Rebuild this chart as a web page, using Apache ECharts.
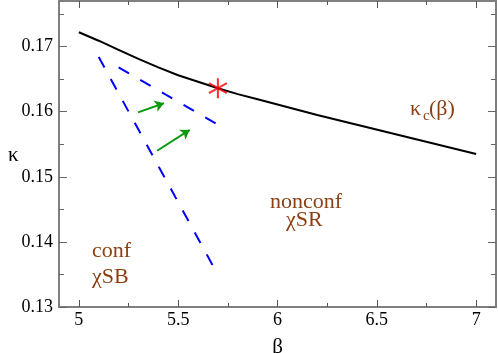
<!DOCTYPE html>
<html>
<head>
<meta charset="utf-8">
<script src="https://cdn.jsdelivr.net/npm/echarts@6/dist/echarts.min.js"></script>
<style>html,body{margin:0;padding:0;background:#fff}#chart{width:498px;height:353px}</style>
</head>
<body>
<div id="chart"></div>
<script>
// critical line kappa_c(beta)
var betaC  = [5.0, 5.1, 5.2, 5.3, 5.4, 5.5, 5.6, 5.7, 5.8, 5.9, 6.0, 6.2, 6.4, 6.6, 6.8, 7.0];
var kappaC = [0.1722, 0.1709, 0.1695, 0.1681, 0.1668, 0.1656, 0.1646, 0.1636, 0.1627, 0.1619, 0.1611, 0.1595, 0.1580, 0.1565, 0.1550, 0.1535];
// blue dashed lines
var dashA = [[5.10, 0.1684], [5.69, 0.1355]];
var dashB = [[5.20, 0.1668], [5.70, 0.1580]];
// green arrows
var arrow1 = [[5.298, 0.1599], [5.428, 0.1613]];
var arrow2 = [[5.394, 0.1540], [5.558, 0.1572]];
// endpoint marker
var star = [5.7, 0.1636];
// ticks
var xTicks = [5, 5.5, 6, 6.5, 7];
var xMinor = [5.25, 5.75, 6.25, 6.75];
var yTicks = [0.13, 0.14, 0.15, 0.16, 0.17];
var yMinor = [0.135, 0.145, 0.155, 0.165, 0.175];

var serif = 'Liberation Serif';
var brown = '#8b3f12';
var axisGray = '#7f7f7f';

var dom = document.getElementById('chart');
var myChart = echarts.init(dom);

function xAx(pos, vals, len, main) {
    return {
        type: 'value', position: pos, min: 4.9, max: 7.1,
        axisLine: {show: main, lineStyle: {color: axisGray, width: 2}},
        axisTick: {show: true, inside: true, length: len, customValues: vals, lineStyle: {color: '#555', width: 1}},
        axisLabel: {show: main && pos === 'bottom', customValues: vals, margin: 4,
            color: '#000', fontFamily: serif, fontSize: 18},
        splitLine: {show: false},
        name: (main && pos === 'bottom') ? 'β' : '',
        nameLocation: 'middle', nameGap: 30,
        nameTextStyle: {color: '#000', fontFamily: serif, fontSize: 21}
    };
}
function yAx(pos, vals, len, main) {
    return {
        type: 'value', position: pos, min: 0.13, max: 0.177,
        axisLine: {show: main, lineStyle: {color: axisGray, width: 2}},
        axisTick: {show: true, inside: true, length: len, customValues: vals, lineStyle: {color: '#666', width: 1}},
        axisLabel: {show: main && pos === 'left', customValues: vals, margin: 6,
            color: '#000', fontFamily: serif, fontSize: 18,
            formatter: function (v) { return v.toFixed(2); }},
        splitLine: {show: false}
    };
}

function txt(x, y, s, size, color) {
    return {
        type: 'text', x: x, y: y, z: 100,
        style: {text: s, fill: color || brown, font: size + 'px "Liberation Serif"', align: 'left', verticalAlign: 'bottom'}
    };
}

var option = {
    animation: false,
    backgroundColor: '#fff',
    grid: {left: 59, right: 2, top: 1, bottom: 46, containLabel: false, outerBoundsMode: 'none'},
    xAxis: [xAx('bottom', xTicks, 7, true), xAx('bottom', xMinor, 4, false),
            xAx('top', xTicks, 7, true), xAx('top', xMinor, 4, false)],
    yAxis: [yAx('left', yTicks, 8, true), yAx('left', yMinor, 5, false),
            yAx('right', yTicks, 8, true), yAx('right', yMinor, 5, false)],
    series: [
        {
            type: 'line', name: 'kappa_c', showSymbol: false, smooth: false,
            lineStyle: {color: '#000', width: 2},
            data: betaC.map(function (b, i) { return [b, kappaC[i]]; })
        },
        {
            type: 'line', showSymbol: false,
            lineStyle: {color: '#0000ff', width: 2, type: [12, 13]},
            data: dashA
        },
        {
            type: 'line', showSymbol: false,
            lineStyle: {color: '#0000ff', width: 2, type: [12, 13]},
            data: dashB
        },
        {
            type: 'lines', coordinateSystem: 'cartesian2d',
            symbol: ['none', 'arrow'], symbolSize: 9,
            lineStyle: {color: '#0b9a0b', width: 2, opacity: 1},
            data: [{coords: arrow1}, {coords: arrow2}]
        },
        {
            type: 'scatter', z: 10,
            symbol: 'path://M-1,-10L-1,10L1,10L1,-10ZM8.16,5.87L9.16,4.13L-8.16,-5.87L-9.16,-4.13ZM-9.16,4.13L-8.16,5.87L9.16,-4.13L8.16,-5.87Z',
            symbolSize: [19, 20],
            itemStyle: {color: '#ff0000'},
            data: [star]
        }
    ],
    graphic: [
        txt(8, 166, 'κ', 21, '#000'),
        txt(410, 120, 'κ', 22),
        txt(423, 124, 'c', 15),
        txt(429, 120, '(β)', 22),
        txt(270, 213, 'nonconf', 22),
        txt(286, 231, 'χSR', 22),
        txt(92, 262, 'conf', 22),
        txt(92, 288, 'χSB', 22)
    ]
};

myChart.setOption(option);
</script>
</body>
</html>
